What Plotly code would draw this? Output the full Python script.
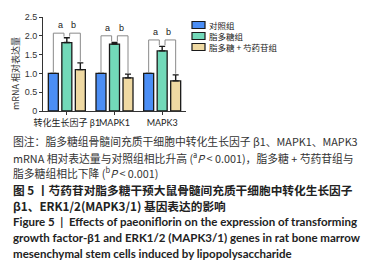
import plotly.graph_objects as go

categories = ["转化生长因子 β1", "MAPK1", "MAPK3"]
series_names = ["对照组", "脂多糖组", "脂多糖 + 芍药苷组"]
control = [1.0, 1.0, 1.0]
lps = [1.82, 1.78, 1.60]
lps_paeo = [1.10, 0.88, 0.80]
control_err = [0.0, 0.0, 0.0]
lps_err = [0.13, 0.04, 0.12]
lps_paeo_err = [0.18, 0.10, 0.16]
bracket_level = [2.07, 2.00, 1.89]
y_ticks = [0, 0.5, 1.0, 1.5, 2.0, 2.5]
y_tick_text = ["0", "0.5", "1.0", "1.5", "2.0", "2.5"]

colors = ["#4b8ef5", "#72d9b9", "#efd9a2"]

W, H = 380, 260
L, R, T, B = 35, 178, 9, 103


def px(xp):
    return (xp - L) / (R - L)


def py(yp):
    return (B - yp) / (B - T)


fig = go.Figure()
vals = [control, lps, lps_paeo]
errs = [control_err, lps_err, lps_paeo_err]
for name, v, e, c in zip(series_names, vals, errs, colors):
    fig.add_bar(
        x=categories, y=v, name=name, showlegend=False,
        marker=dict(color=c, line=dict(color="#1a1a1a", width=1.3)),
        error_y=dict(type="data", array=e, arrayminus=[0] * len(e), symmetric=False,
                     color="#1a1a1a", thickness=1.4, width=3),
    )

slot = (1 - 0.15) / 3
gap = 0.06
shapes = []
annotations = []
for i in range(len(categories)):
    lvl = bracket_level[i]
    xb, xg, xy = i - slot, i, i + slot
    top_b = control[i] + control_err[i]
    top_g = lps[i] + lps_err[i]
    top_y = lps_paeo[i] + lps_paeo_err[i]
    shapes.append(dict(type="path", xref="x", yref="y",
                       path=f"M{xb},{top_b + 0.01} L{xb},{lvl} L{xg - gap},{lvl} L{xg - gap},{top_g + 0.03}",
                       line=dict(color="#8a8a8a", width=1)))
    shapes.append(dict(type="path", xref="x", yref="y",
                       path=f"M{xg + gap},{top_g + 0.03} L{xg + gap},{lvl} L{xy},{lvl} L{xy},{top_y + 0.03}",
                       line=dict(color="#8a8a8a", width=1)))
    for lab, xc in (("a", (xb + xg) / 2), ("b", (xg + xy) / 2)):
        annotations.append(dict(x=xc, y=lvl, xref="x", yref="y", text=lab, showarrow=False,
                                yanchor="bottom", yshift=1,
                                font=dict(size=9, color="#222", family="Liberation Sans")))

# legend (drawn manually for compact row spacing)
legend_rows = [17, 28, 39]
for name, c, yr in zip(series_names, colors, legend_rows):
    shapes.append(dict(type="rect", xref="paper", yref="paper",
                       x0=px(184), x1=px(197), y0=py(yr + 3.5), y1=py(yr - 3.5),
                       fillcolor=c, line=dict(color="#1a1a1a", width=1.2)))
    annotations.append(dict(x=px(200), y=py(yr), xref="paper", yref="paper", text=name,
                            showarrow=False, xanchor="left", yanchor="middle", borderpad=0,
                            font=dict(size=8.5, color="#222", family="Noto Sans CJK SC")))

annotations.append(dict(x=px(7), y=py(66), xref="paper", yref="paper", text="mRNA 相对表达量",
                        textangle=-90, showarrow=False, xanchor="center", yanchor="middle",
                        font=dict(size=9, color="#333", family="Noto Sans CJK SC")))

cap_font = dict(size=10.8, color="#333", family="Noto Sans CJK SC")
bold_font = dict(size=11.7, color="#222", family="Noto Sans CJK SC")
en_font = dict(size=11.5, color="#222", family="Lato")
caption = [
    ("图注：脂多糖组骨髓间充质干细胞中转化生长因子 β1、MAPK1、MAPK3", 133, cap_font),
    ("mRNA 相对表达量与对照组相比升高 (<sup>a</sup><i>P</i> &lt; 0.001)，脂多糖 + 芍药苷组与", 149, cap_font),
    ("脂多糖组相比下降 (<sup>b</sup><i>P</i> &lt; 0.001)", 164, cap_font),
    ("<b>图 5 丨芍药苷对脂多糖干预大鼠骨髓间充质干细胞中转化生长因子</b>", 181, bold_font),
    ("<b>β1、ERK1/2(MAPK3/1) 基因表达的影响</b>", 197, bold_font),
    ("<b>Figure 5  |  Effects of paeoniflorin on the expression of transforming</b>", 213, en_font),
    ("<b>growth factor-β1 and ERK1/2 (MAPK3/1) genes in rat bone marrow</b>", 229, en_font),
    ("<b>mesenchymal stem cells induced by lipopolysaccharide</b>", 245, en_font),
]
for txt, yp, f in caption:
    annotations.append(dict(x=px(3), y=py(yp), xref="paper", yref="paper", text=txt,
                            showarrow=False, xanchor="left", yanchor="middle", font=f))

fig.update_layout(
    width=W, height=H,
    margin=dict(l=L, r=W - R, t=T, b=H - B, pad=0, autoexpand=False),
    paper_bgcolor="white", plot_bgcolor="white",
    barmode="group", bargap=0.15, bargroupgap=0.26,
    showlegend=False,
    shapes=shapes, annotations=annotations,
    font=dict(family="Liberation Sans", color="#333"),
)
fig.update_xaxes(showline=True, linecolor="#333", linewidth=1, ticks="outside", ticklen=3,
                 tickcolor="#333", range=[-0.5, 2.5], tickangle=0, automargin=False,
                 tickfont=dict(size=9, color="#222", family="Lato, Noto Sans CJK SC"))
fig.update_yaxes(range=[0, 2.5], tickvals=y_ticks, ticktext=y_tick_text, showline=True,
                 linecolor="#333", linewidth=1, ticks="outside", ticklen=3, tickcolor="#333",
                 showgrid=False, zeroline=False, automargin=False,
                 tickfont=dict(size=9, color="#333", family="Liberation Sans"))

fig.write_html("out.html")
